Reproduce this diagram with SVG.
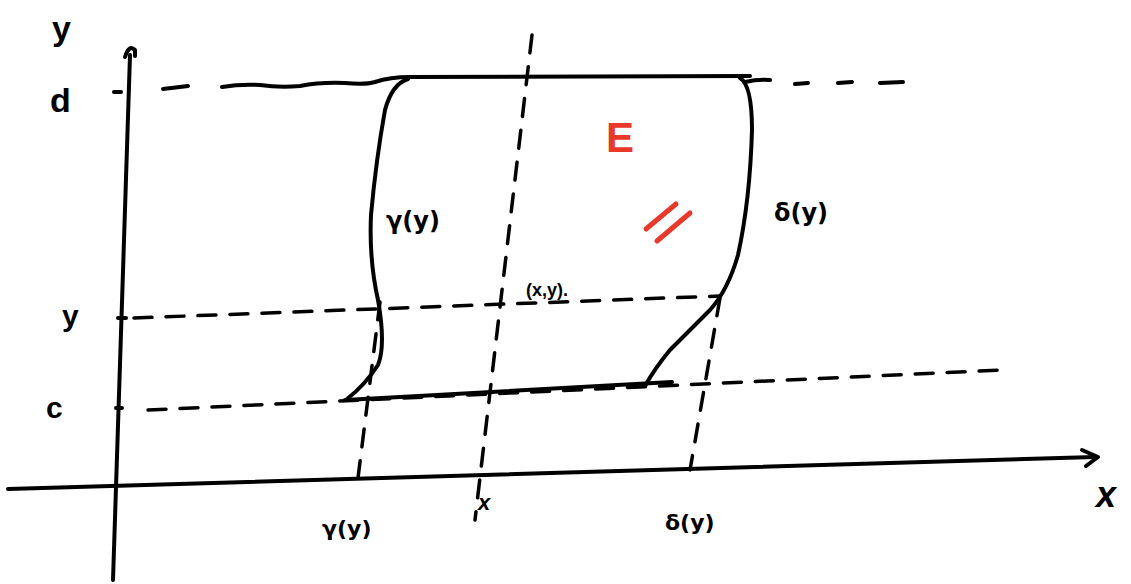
<svg xmlns="http://www.w3.org/2000/svg" width="1131" height="584" viewBox="0 0 1131 584">
<style>
.ln{fill:none;stroke:#000;stroke-width:4;stroke-linecap:round;stroke-linejoin:round}
.ds{fill:none;stroke:#000;stroke-width:3.5;stroke-linecap:round;stroke-dasharray:18 14}
.tx{font-family:"Liberation Sans",Arial,sans-serif;font-weight:bold;fill:#000}
.gk{font-family:"DejaVu Sans",sans-serif;font-weight:bold;fill:#000}
.red{fill:none;stroke:#e8392a;stroke-width:5;stroke-linecap:round}
</style>
<rect width="1131" height="584" fill="#fff"/>
<g id="axes">
<path class="ln" d="M113 580 L130 55"/>
<path class="ln" d="M125 57 Q129 44 135 50 L135 56"/>
<path class="ln" d="M8 489 L1095 457"/>
<path class="ln" d="M1082 450 L1098 457 L1086 466"/>
<path class="ln" d="M114 92 L121 92"/>
<path class="ln" d="M118 318 L126 318"/>
<path class="ln" d="M116 408 L122 408"/>
</g>
<g id="guides">
<path class="ln" d="M163 89 L188 86"/>
<path class="ln" d="M745 82 Q758 79 770 80"/>
<path class="ln" d="M795 84 L808 83"/>
<path class="ln" d="M838 83 L852 82"/>
<path class="ln" d="M880 83 L903 82"/>
<path class="ds" d="M134 318 L720 296"/>
<path class="ds" d="M148 410 L1000 370"/>
<path class="ds" d="M532 35 L475 520"/>
<path class="ds" d="M380 302 L358 478"/>
<path class="ds" d="M720 298 L690 470"/>
</g>
<g id="region-E">
<path class="ln" d="M222 87 Q240 84 260 85 Q280 88 300 86 Q320 82 345 83 Q365 85 375 82 Q390 77 410 77 L750 76"/>
<path class="ln" d="M408 79 Q392 84 385 110 Q376 160 371 215 Q369 260 378 300 Q386 345 378 365 Q365 385 347 399"/>
<path class="ln" d="M740 78 Q752 85 752 130 Q750 200 738 255 Q728 290 710 310 Q690 330 670 350 Q655 368 645 386"/>
<path class="ln" d="M345 400 L672 382"/>
</g>
<g id="labels">
<text class="tx" x="52" y="40" font-size="34">y</text>
<text class="tx" x="50" y="112" font-size="34">d</text>
<text class="tx" x="62" y="326" font-size="30">y</text>
<text class="tx" x="46" y="418" font-size="30">c</text>
<text class="tx" x="1096" y="507" font-size="36" font-style="italic">x</text>
<text class="tx" x="478" y="510" font-size="22" font-style="italic">x</text>
<text class="gk" x="386" y="229" font-size="24">γ(y)</text>
<text class="gk" x="774" y="221" font-size="24">δ(y)</text>
<text class="tx" x="526" y="296" font-size="18">(x,y).</text>
<text class="gk" x="322" y="536" font-size="22">γ(y)</text>
<text class="gk" x="665" y="530" font-size="22">δ(y)</text>
<text x="606" y="152" font-size="42" font-family="'Liberation Sans',Arial,sans-serif" font-weight="bold" fill="#e8392a">E</text>
<path class="red" d="M646 229 L676 204"/>
<path class="red" d="M657 241 L690 213"/>
</g>
</svg>
